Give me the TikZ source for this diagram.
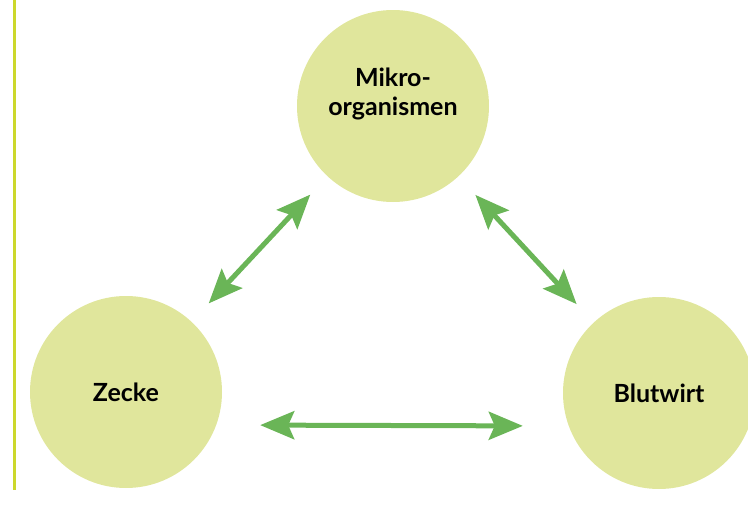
\documentclass[tikz,border=0pt]{standalone}
\usepackage{fontspec}
\setmainfont{Lato}
\usetikzlibrary{arrows.meta}
\definecolor{tickGreen}{HTML}{6AB557}
\definecolor{tickPale}{HTML}{E0E69C}
\definecolor{tickLime}{HTML}{CCD82C}
\tikzset{
  blob/.style={circle, fill=tickPale, minimum size=192pt, inner sep=0pt},
  blobtext/.style={font=\fontsize{25}{29}\selectfont\bfseries, align=center},
  link/.style={tickGreen, line width=5pt,
    {Stealth[length=34pt, width=28pt, inset=6pt]}-{Stealth[length=34pt, width=28pt, inset=6pt]},
    shorten <=25pt, shorten >=25pt},
}
\begin{document}
\begin{tikzpicture}[x=1pt, y=-1pt]
\clip (0,0) rectangle (748,517);
% side rule
\draw[tickLime, line width=3.5pt] (14.5,0) -- (14.5,490);
% the three partners
\node[blob, label={[blobtext, yshift=12pt]center:{Mikro-\\organismen}}] (mikro) at (393,106) {};
\node[blob, label={[blobtext]center:Zecke}] (zecke) at (126,392) {};
\node[blob, label={[blobtext]center:Blutwirt}] (blutwirt) at (659,393) {};
% links
\draw[link] (mikro) -- (zecke);
\draw[link] (mikro) -- (blutwirt);
\draw[link, shorten <=38pt, shorten >=40pt] ([yshift=-33pt]zecke.east) -- ([yshift=-33pt]blutwirt.west);
\end{tikzpicture}
\end{document}
